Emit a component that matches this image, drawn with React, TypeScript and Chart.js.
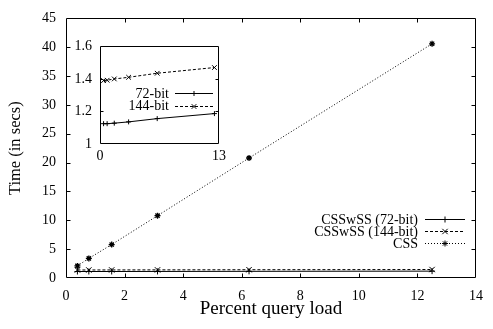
import React, { useEffect, useRef } from 'react';
import { Chart, registerables } from 'chart.js';
import { drawPoint } from 'chart.js/helpers';

Chart.register(...registerables);

// ---- data ----
const loadPercent = [0.39, 0.78, 1.56, 3.125, 6.25, 12.5];
const cssswss72 = [1.125, 1.125, 1.128, 1.136, 1.156, 1.187];
const cssswss144 = [1.39, 1.392, 1.4, 1.41, 1.435, 1.47];
const css = [2.1, 3.4, 5.8, 10.8, 20.8, 40.6];

const mainLabels = ['CSSwSS (72-bit)', 'CSSwSS (144-bit)', 'CSS'];
const insetLabels = ['72-bit', '144-bit'];

const mainXTicks = [0, 2, 4, 6, 8, 10, 12, 14];
const mainYTicks = [0, 5, 10, 15, 20, 25, 30, 35, 40, 45];
const insetXTicks = [0, 13];
const insetYTicks = [1, 1.2, 1.4, 1.6];

const FONT = "'Liberation Serif', 'Times New Roman', serif";

const pts = (ys: number[]) => loadPercent.map((x, i) => ({ x, y: ys[i] }));

const framePlugin = {
  id: 'frame',
  beforeDraw(chart: any, _args: any, opts: any) {
    const { ctx, chartArea: a } = chart;
    ctx.save();
    ctx.fillStyle = '#fff';
    ctx.fillRect(a.left, a.top, a.right - a.left, a.bottom - a.top);
    ctx.restore();
  },
  afterDatasetsDraw(chart: any, _args: any, opts: any) {
    const { ctx, chartArea: a } = chart;
    const len = opts.tickLen || 4;
    ctx.save();
    ctx.strokeStyle = '#000';
    ctx.lineWidth = 1;
    ctx.beginPath();
    const L = Math.round(a.left) + 0.5;
    const R = Math.round(a.right) - 0.5;
    const T = Math.round(a.top) + 0.5;
    const B = Math.round(a.bottom) - 0.5;
    ctx.rect(L, T, R - L, B - T);
    const xs = chart.scales.x;
    xs.ticks.forEach((t: any) => {
      const p = Math.round(xs.getPixelForValue(t.value)) + 0.5;
      if (p <= L + 1 || p >= R - 1) return;
      ctx.moveTo(p, B); ctx.lineTo(p, B - len);
      ctx.moveTo(p, T); ctx.lineTo(p, T + len);
    });
    const ys = chart.scales.y;
    ys.ticks.forEach((t: any) => {
      const p = Math.round(ys.getPixelForValue(t.value)) + 0.5;
      if (p <= T + 1 || p >= B - 1) return;
      ctx.moveTo(L, p); ctx.lineTo(L + len, p);
      ctx.moveTo(R, p); ctx.lineTo(R - len, p);
    });
    ctx.stroke();
    ctx.restore();
  },
};

const keyPlugin = {
  id: 'key',
  afterDraw(chart: any, _args: any, opts: any) {
    const { ctx } = chart;
    ctx.save();
    ctx.font = opts.font;
    ctx.textAlign = 'right';
    ctx.textBaseline = 'middle';
    chart.data.datasets.forEach((ds: any, i: number) => {
      const y = opts.ys[i];
      ctx.fillStyle = '#000';
      ctx.fillText(opts.labels[i], opts.textRight, y + 1);
      ctx.strokeStyle = '#000';
      ctx.lineWidth = 1;
      ctx.setLineDash(ds.borderDash || []);
      ctx.beginPath();
      ctx.moveTo(opts.lineStart, Math.round(y) + 0.5);
      ctx.lineTo(opts.lineEnd, Math.round(y) + 0.5);
      ctx.stroke();
      ctx.setLineDash([]);
      drawPoint(ctx, { pointStyle: ds.pointStyle, radius: ds.pointRadius, rotation: 0, borderWidth: 1 } as any,
        (opts.lineStart + opts.lineEnd) / 2, Math.round(y) + 0.5);
    });
    ctx.restore();
  },
};

function makeSets(withCss: boolean, r: number) {
  const sets: any[] = [
    { data: pts(cssswss72), borderColor: '#000', backgroundColor: '#000', borderWidth: 1, pointStyle: 'cross', pointRadius: r, pointBorderWidth: 1, borderDash: [] },
    { data: pts(cssswss144), borderColor: '#000', backgroundColor: '#000', borderWidth: 1, pointStyle: 'crossRot', pointRadius: r + 0.8, pointBorderWidth: 1, borderDash: [3, 2] },
  ];
  if (withCss) {
    sets.push({ data: pts(css), borderColor: '#000', backgroundColor: '#000', borderWidth: 1, pointStyle: 'star', pointRadius: r, pointBorderWidth: 1.3, borderDash: [1, 2] });
  }
  return sets;
}

export default function App() {
  const mainRef = useRef<HTMLCanvasElement>(null);
  const insetRef = useRef<HTMLCanvasElement>(null);

  useEffect(() => {
    Chart.defaults.color = '#000';
    const main = new Chart(mainRef.current!, {
      type: 'line',
      data: { datasets: makeSets(true, 3) },
      plugins: [framePlugin, keyPlugin],
      options: {
        animation: false,
        responsive: false,
        devicePixelRatio: 1,
        layout: { padding: { top: 7, right: 7, left: 0, bottom: 0 } },
        plugins: {
          legend: { display: false },
          tooltip: { enabled: false },
          frame: { tickLen: 4 },
          key: {
            labels: mainLabels,
            ys: [219, 231, 243],
            textRight: 418,
            lineStart: 425,
            lineEnd: 465,
            font: `14px ${FONT}`,
          },
        } as any,
        scales: {
          x: {
            type: 'linear',
            min: 0,
            max: 14,
            afterBuildTicks: (s: any) => { s.ticks = mainXTicks.map((v) => ({ value: v })); },
            afterFit: (s: any) => { s.height = 51; },
            grid: { display: false, drawTicks: false },
            border: { display: false },
            ticks: { autoSkip: false, maxRotation: 0, padding: 10, font: { family: FONT, size: 14 }, color: '#000' },
            title: { display: true, text: 'Percent query load', font: { family: FONT, size: 19 }, color: '#000', padding: { top: 0, bottom: 9 } },
          },
          y: {
            type: 'linear',
            min: 0,
            max: 45,
            afterBuildTicks: (s: any) => { s.ticks = mainYTicks.map((v) => ({ value: v })); },
            afterFit: (s: any) => { s.width = 66; },
            grid: { display: false, drawTicks: false },
            border: { display: false },
            ticks: { autoSkip: false, padding: 10, font: { family: FONT, size: 14 }, color: '#000' },
            title: { display: true, text: 'Time (in secs)', font: { family: FONT, size: 16.5 }, color: '#000', padding: { top: 6, bottom: 0 } },
          },
        },
      },
    });

    const inset = new Chart(insetRef.current!, {
      type: 'line',
      data: { datasets: makeSets(false, 2.5) },
      plugins: [framePlugin, keyPlugin],
      options: {
        animation: false,
        responsive: false,
        devicePixelRatio: 1,
        layout: { padding: { top: 12, right: 10, left: 0, bottom: 0 } },
        plugins: {
          legend: { display: false },
          tooltip: { enabled: false },
          frame: { tickLen: 3 },
          key: {
            labels: insetLabels,
            ys: [63, 75.5],
            textRight: 109,
            lineStart: 115,
            lineEnd: 153,
            font: `14px ${FONT}`,
          },
        } as any,
        scales: {
          x: {
            type: 'linear',
            min: 0,
            max: 13,
            afterBuildTicks: (s: any) => { s.ticks = insetXTicks.map((v) => ({ value: v })); },
            afterFit: (s: any) => { s.height = 26; },
            grid: { display: false, drawTicks: false },
            border: { display: false },
            ticks: { autoSkip: false, maxRotation: 0, padding: 4, font: { family: FONT, size: 14 }, color: '#000' },
          },
          y: {
            type: 'linear',
            min: 1,
            max: 1.6,
            afterBuildTicks: (s: any) => { s.ticks = insetYTicks.map((v) => ({ value: v })); },
            afterFit: (s: any) => { s.width = 40; },
            grid: { display: false, drawTicks: false },
            border: { display: false },
            ticks: {
              autoSkip: false,
              padding: 8,
              font: { family: FONT, size: 14 },
              color: '#000',
              callback: (v: any) => (Number(v) === 1 ? '1' : Number(v).toFixed(1)),
            },
          },
        },
      },
    });

    return () => {
      main.destroy();
      inset.destroy();
    };
  }, []);

  return (
    <div style={{ position: 'absolute', left: 0, top: 0, width: 493, height: 329, background: '#fff' }}>
      <canvas ref={mainRef} width={493} height={329} style={{ position: 'absolute', left: 0, top: 0, width: 493, height: 329 }} />
      <canvas ref={insetRef} width={170} height={140} style={{ position: 'absolute', left: 60, top: 30, width: 170, height: 140 }} />
    </div>
  );
}
